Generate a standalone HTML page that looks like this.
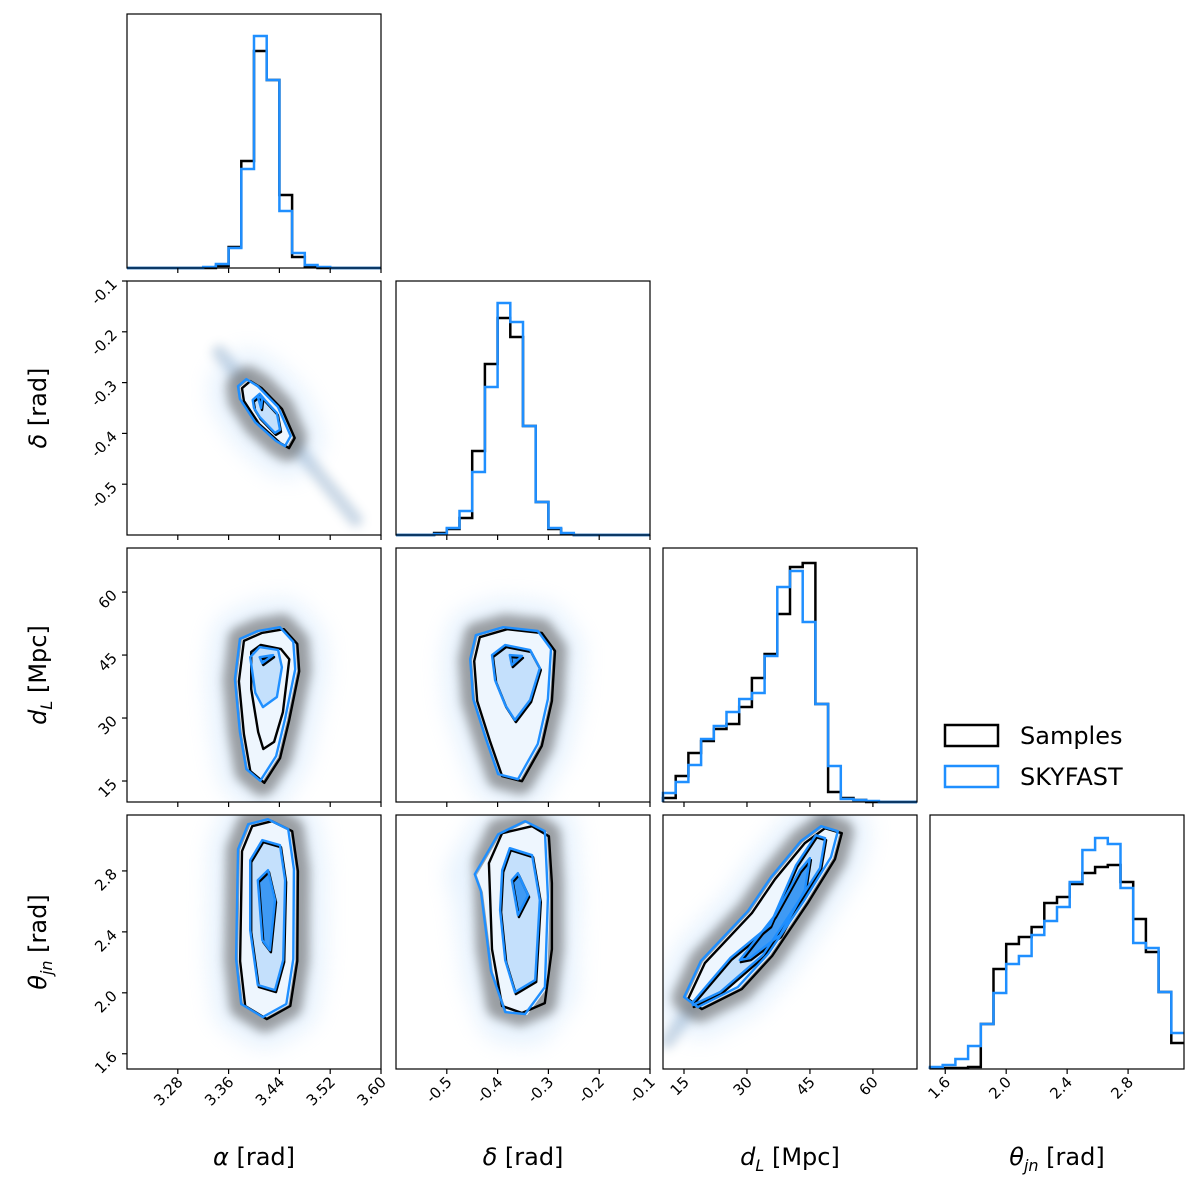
<!DOCTYPE html>
<html><head><meta charset="utf-8"><style>
html,body{margin:0;padding:0;background:#fff}
svg{display:block}
text{font-family:"DejaVu Sans","Liberation Sans",sans-serif;fill:#000}
</style></head><body>
<svg id="chart" width="1200" height="1187" viewBox="0 0 1200 1187" xmlns="http://www.w3.org/2000/svg">
<defs>
<filter id="blur6" x="-100%" y="-100%" width="300%" height="300%" filterUnits="objectBoundingBox"><feGaussianBlur stdDeviation="5"/></filter>
<filter id="blur9" x="-100%" y="-100%" width="300%" height="300%" filterUnits="objectBoundingBox"><feGaussianBlur stdDeviation="11"/></filter>
</defs>
<g id="plots"></g>
<g>
<g><rect x="945" y="725" width="53" height="21" fill="none" stroke="#000" stroke-width="2.5"/><text x="1020" y="744" font-size="24">Samples</text></g>
<g><rect x="945" y="766" width="53" height="21" fill="none" stroke="#1f8fff" stroke-width="2.5"/><text x="1020" y="785" font-size="24">SKYFAST</text></g>
</g>
</svg>
<script>
// ---- data ----
const alphaTicks = [3.28, 3.36, 3.44, 3.52, 3.60];
const deltaTicks = [-0.5, -0.4, -0.3, -0.2, -0.1];
const dLTicks = [15, 30, 45, 60];
const thetaTicks = [1.6, 2.0, 2.4, 2.8];

const alphaHistSamples = [0,0,0,0,0,0,0,2,21,107,217,188,73,11,1,0,0,0,0,0];
const alphaHistSkyfast = [0,0,0,0,0,0,1,4,20,99,232,188,57,15,3,1,0,0,0,0];
const deltaHistSamples = [0,0,0,2,6,17,84,171,217,198,109,33,6,1,0,0,0,0,0,0];
const deltaHistSkyfast = [0,0,0,1,7,24,63,148,232,213,109,33,7,2,0,0,0,0,0,0];
const dLHistSamples = [4,26,49,61,73,78,95,124,148,188,235,239,98,10,4,2,0,0,0,0];
const dLHistSkyfast = [9,20,37,63,76,90,103,109,146,215,231,180,98,36,3,2,1,0,0,0];
const thetaHistSamples = [1,1,1,2,45,100,125,132,142,166,172,185,196,202,204,187,150,117,77,26];
const thetaHistSkyfast = [2,4,10,23,45,76,105,113,134,148,162,187,219,231,225,181,126,121,77,36];

// contours [level1(outer), level2, level3(inner)] in data coords
const alphaDeltaOuter = [[3.378,-0.309],[3.391,-0.295],[3.409,-0.309],[3.441,-0.350],[3.461,-0.407],[3.452,-0.427],[3.438,-0.417],[3.405,-0.380],[3.381,-0.334]];
const alphaDeltaMid = [[3.398,-0.334],[3.409,-0.322],[3.417,-0.334],[3.436,-0.360],[3.441,-0.393],[3.433,-0.399],[3.409,-0.368],[3.400,-0.350]];
const alphaDeltaInner = [[3.406,-0.328],[3.413,-0.330],[3.411,-0.350]];
const alphaDeltaTail = [[3.345,-0.24],[3.56,-0.57]];

const alphaDLOuter = [[3.373,39.0],[3.381,48.6],[3.409,50.5],[3.444,51.4],[3.465,47.9],[3.468,41.4],[3.452,29.5],[3.438,20.7],[3.413,14.8],[3.391,17.6],[3.381,26.4]];
const alphaDLMidSamples = [[3.394,46.2],[3.409,47.9],[3.441,46.9],[3.454,44.5],[3.444,31.9],[3.430,24.8],[3.413,23.1],[3.405,27.1],[3.394,37.4]];
const alphaDLMidSkyfast = [[3.394,44.5],[3.409,46.9],[3.438,46.2],[3.444,42.1],[3.436,35.0],[3.414,32.6],[3.402,36.0]];
const alphaDLInner = [[3.409,44.5],[3.430,45.0],[3.413,43.1]];

const deltaDLOuter = [[-0.450,43.8],[-0.439,49.5],[-0.385,51.4],[-0.317,50.5],[-0.291,46.2],[-0.297,34.3],[-0.317,23.6],[-0.356,15.2],[-0.395,16.4],[-0.419,24.8],[-0.444,34.3]];
const deltaDLMid = [[-0.411,45.0],[-0.385,47.4],[-0.336,46.2],[-0.317,41.9],[-0.336,34.3],[-0.366,29.5],[-0.385,33.1],[-0.405,39.0]];
const deltaDLInner = [[-0.376,45.0],[-0.352,44.8],[-0.372,42.6]];

const alphaThetaOuter = [[3.378,2.936],[3.394,3.100],[3.425,3.133],[3.457,3.067],[3.466,2.805],[3.465,2.215],[3.454,1.920],[3.417,1.834],[3.383,1.920],[3.375,2.215]];
const alphaThetaMid = [[3.394,2.870],[3.413,3.002],[3.441,2.969],[3.449,2.739],[3.446,2.215],[3.433,2.018],[3.406,2.051],[3.394,2.411]];
const alphaThetaInner = [[3.406,2.739],[3.422,2.805],[3.433,2.608],[3.425,2.280],[3.413,2.346]];

const deltaThetaOuterSamples = [[-0.421,2.857],[-0.395,3.054],[-0.336,3.100],[-0.303,3.034],[-0.297,2.726],[-0.297,2.293],[-0.311,1.939],[-0.356,1.874],[-0.395,1.920],[-0.415,2.293]];
const deltaThetaOuterSkyfast = [[-0.441,2.772],[-0.395,3.034],[-0.342,3.120],[-0.303,3.054],[-0.297,2.621],[-0.303,2.031],[-0.342,1.854],[-0.381,1.867],[-0.409,2.136],[-0.429,2.661]];
const deltaThetaMid = [[-0.391,2.805],[-0.376,2.949],[-0.332,2.903],[-0.317,2.608],[-0.326,2.084],[-0.366,2.005],[-0.385,2.215],[-0.395,2.543]];
const deltaThetaInner = [[-0.372,2.739],[-0.360,2.785],[-0.340,2.641],[-0.360,2.510]];

const dLThetaOuter = [[15.5,1.966],[19.5,2.202],[30.7,2.530],[36.2,2.752],[43.3,2.989],[48.1,3.087],[52.1,3.054],[50.5,2.884],[44.0,2.595],[35.5,2.248],[28.3,2.031],[18.8,1.900]];
const dLThetaMid = [[17.1,1.939],[26.0,2.228],[35.5,2.444],[41.7,2.838],[46.4,3.034],[48.6,3.015],[47.4,2.818],[41.7,2.575],[33.8,2.248],[23.6,2.005],[17.1,1.920]];
const dLThetaInner = [[28.3,2.215],[36.7,2.510],[42.6,2.805],[45.0,2.884],[43.8,2.674],[37.9,2.379],[30.7,2.228]];
const dLThetaTail = [[11,1.68],[49,3.14]];

// ---- layout ----
const NS = "http://www.w3.org/2000/svg";
const SZ = 254;
const colX = [127, 396, 663, 930];
const rowY = [14, 281, 548, 815];
const ranges = [[3.2, 3.6], [-0.6, -0.1], [10, 70.5], [1.5, 3.167]];
const ticks = [alphaTicks, deltaTicks, dLTicks, thetaTicks];
const fmt = [v => v.toFixed(2), v => v.toFixed(1), v => String(v), v => v.toFixed(1)];
const names = ["alpha", "delta", "dl", "theta"];
function sx(i, v) { return colX[i] + (v - ranges[i][0]) / (ranges[i][1] - ranges[i][0]) * SZ; }
function sy(j, v) { return rowY[j] + SZ - (v - ranges[j][0]) / (ranges[j][1] - ranges[j][0]) * SZ; }
const BLUE = "#1f8fff";
const root = document.getElementById("plots");
function mk(tag, attrs, parent) { const e = document.createElementNS(NS, tag); for (const k in attrs) e.setAttribute(k, attrs[k]); (parent || root).appendChild(e); return e; }

// histograms
const hists = [[alphaHistSamples, alphaHistSkyfast], [deltaHistSamples, deltaHistSkyfast], [dLHistSamples, dLHistSkyfast], [thetaHistSamples, thetaHistSkyfast]];
function histPath(i, arr) {
  const w = (ranges[i][1] - ranges[i][0]) / arr.length;
  const base = rowY[i] + SZ;
  let d = "M" + sx(i, ranges[i][0]) + "," + base;
  arr.forEach((c, k) => {
    const y = base - c / 254 * SZ;
    d += " L" + sx(i, ranges[i][0] + k * w) + "," + y + " L" + sx(i, ranges[i][0] + (k + 1) * w) + "," + y;
  });
  return d;
}
hists.forEach((pair, i) => {
  const g = mk("g", {});
  
  
  const p1 = mk("path", { d: histPath(i, pair[0]), fill: "none", stroke: "#000", "stroke-width": 2.5 }, g);
  
  
  const p2 = mk("path", { d: histPath(i, pair[1]), fill: "none", stroke: BLUE, "stroke-width": 2.5 }, g);
  
  
});

// 2D panels: [col, row, samplesLevels, skyfastLevels, tail]
const panels2d = [
  [0, 1, [alphaDeltaOuter, alphaDeltaMid, alphaDeltaInner], [alphaDeltaOuter, alphaDeltaMid, alphaDeltaInner], alphaDeltaTail],
  [0, 2, [alphaDLOuter, alphaDLMidSamples, alphaDLInner], [alphaDLOuter, alphaDLMidSkyfast, alphaDLInner], null],
  [1, 2, [deltaDLOuter, deltaDLMid, deltaDLInner], [deltaDLOuter, deltaDLMid, deltaDLInner], null],
  [0, 3, [alphaThetaOuter, alphaThetaMid, alphaThetaInner], [alphaThetaOuter, alphaThetaMid, alphaThetaInner], null],
  [1, 3, [deltaThetaOuterSamples, deltaThetaMid, deltaThetaInner], [deltaThetaOuterSkyfast, deltaThetaMid, deltaThetaInner], null],
  [2, 3, [dLThetaOuter, dLThetaMid, dLThetaInner], [dLThetaOuter, dLThetaMid, dLThetaInner], dLThetaTail]
];
function polyPts(i, j, pts) { return pts.map(p => sx(i, p[0]).toFixed(1) + "," + sy(j, p[1]).toFixed(1)).join(" "); }
const fills = ["#eef6fe", "#c4e0fc", "#3f9af4"];
panels2d.forEach(([i, j, samp, sky, tail]) => {
  const g = mk("g", {});
  
  
  const cp = mk("clipPath", { id: "cp" + i + j }, g);
  mk("rect", { x: colX[i], y: rowY[j], width: SZ, height: SZ }, cp);
  const inner = mk("g", { "clip-path": "url(#cp" + i + j + ")" }, g);
  const c2 = mk("polygon", { points: polyPts(i, j, sky[0]), fill: "none", stroke: "#bcdcfc", "stroke-width": 60, "stroke-linejoin": "round", opacity: 0.35, filter: "url(#blur9)" }, inner);
  
  
  if (tail) {
    const t = mk("line", { x1: sx(i, tail[0][0]), y1: sy(j, tail[0][1]), x2: sx(i, tail[1][0]), y2: sy(j, tail[1][1]), stroke: "#8aa9c8", "stroke-width": 14, "stroke-linecap": "round", opacity: 0.45, filter: "url(#blur6)" }, inner);
    
    
  }
  const c1 = mk("polygon", { points: polyPts(i, j, samp[0]), fill: "#666", stroke: "#666", "stroke-width": 28, "stroke-linejoin": "round", opacity: 0.6, filter: "url(#blur6)" }, inner);
  
  
  sky.forEach((lvl, k) => {
    const f = mk("polygon", { points: polyPts(i, j, lvl), fill: fills[k], stroke: "none" }, inner);
    
    
  });
  samp.forEach((lvl, k) => {
    const l = mk("polygon", { points: polyPts(i, j, lvl), fill: "none", stroke: "#000", "stroke-width": 2.4, "stroke-linejoin": "round", transform: "translate(" + (k === 0 ? 2 : 1) + "," + (k === 0 ? 1 : 2) + ")" }, inner);
    
    
  });
  sky.forEach((lvl, k) => {
    const l = mk("polygon", { points: polyPts(i, j, lvl), fill: "none", stroke: BLUE, "stroke-width": 2.4, "stroke-linejoin": "round", transform: k === 0 ? "translate(-2,-1)" : "" }, inner);
    
    
  });
});

// frames, ticks, labels
for (let j = 0; j < 4; j++) {
  for (let i = 0; i <= j; i++) {
    const fr = mk("rect", { x: colX[i], y: rowY[j], width: SZ, height: SZ, fill: "none", stroke: "#000", "stroke-width": 1.2 });
    
    
    const by = rowY[j] + SZ;
    ticks[i].forEach(t => {
      const x = sx(i, t);
      mk("line", { x1: x, x2: x, y1: by, y2: by + 5, stroke: "#000", "stroke-width": 1.2 });
      if (j === 3) {
        const tx = mk("text", { x: x + 6, y: by + 14, "font-size": 15, "text-anchor": "end", transform: "rotate(-45 " + (x + 6) + " " + (by + 14) + ")" });
        tx.textContent = fmt[i](t);
        
        
      }
    });
    if (i === 0 && j > 0) {
      ticks[j].forEach(t => {
        const y = sy(j, t);
        mk("line", { x1: colX[0] - 5, x2: colX[0], y1: y, y2: y, stroke: "#000", "stroke-width": 1.2 });
        const tx = mk("text", { x: 118, y: y + 4, "font-size": 15, "text-anchor": "end", transform: "rotate(-45 118 " + (y + 4) + ")" });
        tx.textContent = fmt[j](t);
        
        
      });
    }
  }
}
// axis titles
const xTitles = [["α", " [rad]"], ["δ", " [rad]"], ["d", "L", " [Mpc]"], ["θ", "jn", " [rad]"]];
function title(parts, x, y, rot, nm) {
  const t = mk("text", { x: x, y: y, "font-size": 24, "text-anchor": "middle", transform: rot ? "rotate(-90 " + x + " " + y + ")" : "" });
  
  
  const a = mk("tspan", { "font-style": "italic" }, t); a.textContent = parts[0];
  if (parts.length === 3) {
    const s = mk("tspan", { "font-style": "italic", "font-size": 16, dy: 6 }, t); s.textContent = parts[1];
    const r = mk("tspan", { dy: -6 }, t); r.textContent = parts[2];
  } else { const r = mk("tspan", {}, t); r.textContent = parts[1]; }
}
for (let i = 0; i < 4; i++) title(xTitles[i], colX[i] + SZ / 2, 1165, false, 'x-axis-title-' + names[i]);
for (let j = 1; j < 4; j++) title(xTitles[j], 46, rowY[j] + SZ / 2, true, 'y-axis-title-' + names[j]);
</script>
</body></html>
